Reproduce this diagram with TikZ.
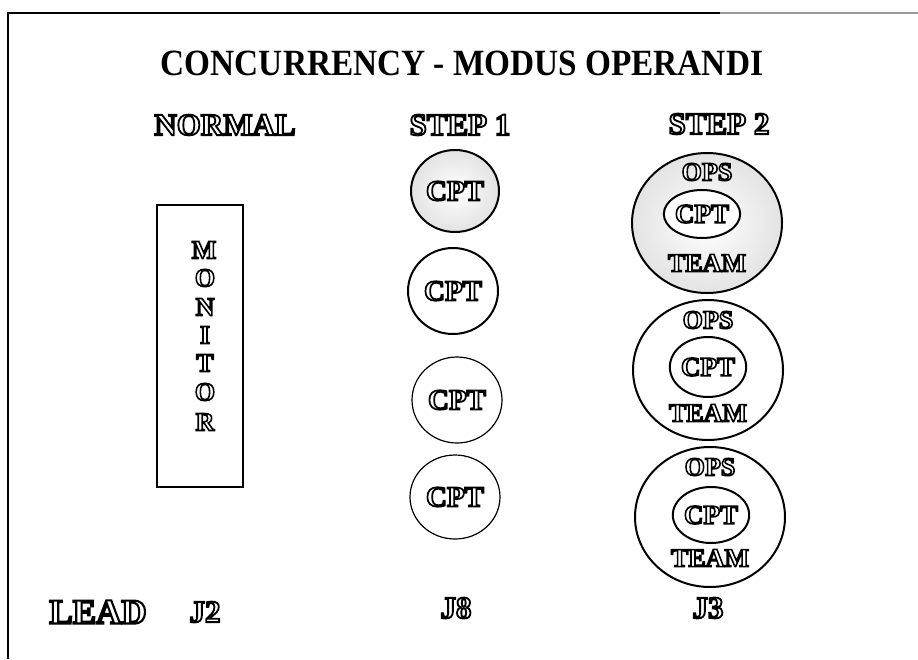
\documentclass[tikz,border=0pt]{standalone}
\usepackage{fontspec}
\setmainfont{Liberation Serif}
% heavy stroked face used for the hollow lettering
\newfontfamily\hollowfont{Liberation Serif Bold}[FakeBold=6]
\usetikzlibrary{shapes.geometric}

% hollow (outlined) lettering: white face, black rim
\newcommand{\hollow}[1]{{\color{white}\special{pdf:literal direct 0 G}#1}}

\tikzset{
  frameline/.style={line width=1.4pt},
  heading/.style={font=\hollowfont\fontsize{31}{33}\selectfont, inner sep=0pt},
  lbl/.style={font=\hollowfont\fontsize{26}{28}\selectfont, inner sep=0pt},
  letter/.style={font=\hollowfont\fontsize{26}{28}\selectfont, inner sep=0pt},
  leadtxt/.style={font=\hollowfont\fontsize{35}{37}\selectfont, inner sep=0pt},
  jtxt/.style={font=\hollowfont\fontsize{31}{33}\selectfont, inner sep=0pt},
  cptring/.style={ellipse, draw, line width=2pt, inner sep=0pt,
                  font=\hollowfont\fontsize{29}{31}\selectfont},
  thinring/.style={cptring, line width=1.2pt},
  teamring/.style={ellipse, draw, line width=2pt, inner sep=0pt,
                   minimum width=150pt, minimum height=140pt},
  innerring/.style={ellipse, draw, line width=2pt, inner sep=0pt,
                    font=\hollowfont\fontsize{27}{29}\selectfont},
  haze/.style={inner color=white, outer color=black!11},
  monbox/.style={draw, line width=1.6pt, inner sep=0pt,
                 minimum width=86pt, minimum height=282pt}
}

\begin{document}
\begin{tikzpicture}[x=1pt, y=-1pt]
  \useasboundingbox (0,0) rectangle (918,659);

  % page frame (top and left edges only)
  \coordinate (ftl) at (8,13);
  \coordinate (ftm) at (720,13);
  \coordinate (ftr) at (918,13);
  \coordinate (fbl) at (8,659);
  \draw[frameline] (ftm) -- (ftl) -- (fbl);
  \draw[frameline, black!40] (ftm) -- (ftr);

  % title
  \node[font=\bfseries\fontsize{37}{40}\selectfont, inner sep=0pt,
        xscale=0.9, transform shape] (title) at (462,63) {CONCURRENCY - MODUS OPERANDI};

  % column headings
  \node[heading] (hnormal) at (225,125) {\hollow{NORMAL}};
  \node[heading] (hstep1) at (460,125) {\hollow{STEP 1}};
  \node[heading] (hstep2) at (719,124) {\hollow{STEP 2}};

  % NORMAL: monitor box
  \node[monbox] (monitor) at (200,346) {};
  \node[letter] (m1) at (204,250) {\hollow{M}};
  \node[letter] (m2) at (205,278) {\hollow{O}};
  \node[letter] (m3) at (205,307) {\hollow{N}};
  \node[letter] (m4) at (205,335) {\hollow{I}};
  \node[letter] (m5) at (205,363) {\hollow{T}};
  \node[letter] (m6) at (205,392) {\hollow{O}};
  \node[letter] (m7) at (205,422) {\hollow{R}};

  % STEP 1: four CPT circles
  \node[cptring, shade, haze, minimum width=88pt, minimum height=82pt] (s1a) at (455,191) {\hollow{CPT}};
  \node[cptring, minimum width=90pt, minimum height=86pt] (s1b) at (453,291) {\hollow{CPT}};
  \node[thinring, minimum width=90pt, minimum height=86pt] (s1c) at (457,400) {\hollow{CPT}};
  \node[thinring, minimum width=90pt, minimum height=84pt] (s1d) at (455,497) {\hollow{CPT}};

  % STEP 2: CPT inside OPS TEAM
  \node[teamring, shade, haze] (t1) at (707,223) {};
  \node[innerring, fill=white, minimum width=64pt, minimum height=48pt] (c1) at (702,214) {\hollow{CPT}};
  \node[lbl] (o1) at (707,172) {\hollow{OPS}};
  \node[lbl] (e1) at (707,263) {\hollow{TEAM}};

  \node[teamring] (t2) at (708,370) {};
  \node[innerring, minimum width=76pt, minimum height=60pt] (c2) at (708,367) {\hollow{CPT}};
  \node[lbl] (o2) at (708,320) {\hollow{OPS}};
  \node[lbl] (e2) at (708,413) {\hollow{TEAM}};

  \node[teamring] (t3) at (710,517) {};
  \node[innerring, minimum width=76pt, minimum height=56pt] (c3) at (711,515) {\hollow{CPT}};
  \node[lbl] (o3) at (710,467) {\hollow{OPS}};
  \node[lbl] (e3) at (710,558) {\hollow{TEAM}};

  % lead row
  \node[leadtxt] (lead) at (98,612) {\hollow{LEAD}};
  \node[jtxt] (j2) at (205,612) {\hollow{J2}};
  \node[jtxt] (j8) at (456,608) {\hollow{J8}};
  \node[jtxt] (j3) at (708,608) {\hollow{J3}};
\end{tikzpicture}
\end{document}
